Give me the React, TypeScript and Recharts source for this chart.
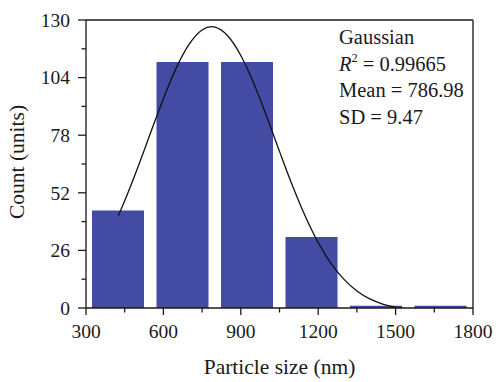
import React from "react";
import {
  ComposedChart,
  Bar,
  Line,
  XAxis,
  YAxis,
  ReferenceLine,
} from "recharts";

// histogram bins (bin centre in nm) and counts
const binCenters = [425, 675, 925, 1175, 1425, 1675];
const counts = [44, 111, 111, 32, 1, 1];

// Gaussian fit curve, sampled along particle size
const fitSizes = [
  425, 450, 500, 550, 600, 650, 700, 750, 787, 800, 850, 900, 950, 1000, 1050,
  1100, 1150, 1200, 1250, 1300, 1350, 1400, 1450, 1500, 1550, 1600, 1650, 1675,
];
const fitCounts = [
  41.6, 48.4, 63.2, 79.0, 94.5, 108.4, 119.1, 125.5, 127.0, 126.8, 122.8, 114.0,
  101.5, 86.6, 70.7, 55.3, 41.4, 29.5, 20.0, 12.9, 7.7, 4.1, 1.8, 0.4, -0.5,
  -1.0, -1.2, -1.3,
];

const xTicks = [300, 450, 600, 750, 900, 1050, 1200, 1350, 1500, 1650, 1800];
const yTicks = [0, 13, 26, 39, 52, 65, 78, 91, 104, 117, 130];

const bins = binCenters.map((size, i) => ({ size, count: counts[i] }));
const fit = fitSizes.map((size, i) => ({ size, fit: fitCounts[i] }));

const FONT = '"Liberation Serif", "Times New Roman", serif';
const INK = "#1a1a1a";

const XTick = (props: any) => {
  const { x, y, payload } = props;
  const major = payload.value % 300 === 0;
  return (
    <g>
      <line x1={x} x2={x} y1={y} y2={y + (major ? 7 : 4.5)} stroke={INK} strokeWidth={1.3} />
      {major && (
        <text x={x} y={y + 29.5} textAnchor="middle" fontFamily={FONT} fontSize={19.5} fill={INK}>
          {payload.value}
        </text>
      )}
    </g>
  );
};

const YTick = (props: any) => {
  const { x, y, payload } = props;
  const major = payload.value % 26 === 0;
  return (
    <g>
      <line x1={x - (major ? 8 : 4.5)} x2={x} y1={y} y2={y} stroke={INK} strokeWidth={1.3} />
      {major && (
        <text
          x={x - 16}
          y={y}
          dy="0.35em"
          textAnchor="end"
          fontFamily={FONT}
          fontSize={19.5}
          fill={INK}
        >
          {payload.value}
        </text>
      )}
    </g>
  );
};

const YTitle = (props: any) => {
  const { x, y, height } = props.viewBox;
  const cx = x + 7.5;
  const cy = y + height / 2 - 2;
  return (
    <text
      x={cx}
      y={cy}
      transform={`rotate(-90, ${cx}, ${cy})`}
      textAnchor="middle"
      fontFamily={FONT}
      fontSize={21.5}
      fill={INK}
    >
      Count (units)
    </text>
  );
};

export default function App() {
  return (
    <div style={{ position: "absolute", left: 0, top: 0, width: 498, height: 382, background: "#fff" }}>
      <ComposedChart
        width={498}
        height={382}
        data={bins}
        margin={{ top: 20, right: 25, left: 16, bottom: 34 }}
      >
        <XAxis
          dataKey="size"
          type="number"
          domain={[300, 1800]}
          ticks={xTicks}
          interval={0}
          height={40}
          tickSize={0}
          tickMargin={0}
          tick={<XTick />}
          axisLine={{ stroke: INK, strokeWidth: 1.3 }}
          label={{
            value: "Particle size (nm)",
            position: "bottom",
            offset: 11,
            fontFamily: FONT,
            fontSize: 21.5,
            fill: INK,
          }}
        />
        {/* separate hidden axis so bar width comes from bin spacing only */}
        <XAxis xAxisId="bins" dataKey="size" type="number" domain={[300, 1800]} hide />
        <YAxis
          type="number"
          domain={[0, 130]}
          allowDataOverflow
          ticks={yTicks}
          interval={0}
          width={70}
          tickSize={0}
          tickMargin={0}
          tick={<YTick />}
          axisLine={{ stroke: INK, strokeWidth: 1.3 }}
          label={{ content: <YTitle /> }}
        />
        <ReferenceLine y={130} stroke={INK} strokeWidth={1.3} />
        <ReferenceLine x={1800} stroke="#333" strokeWidth={1.5} />
        <Bar xAxisId="bins" dataKey="count" fill="#434ba3" barSize={52} isAnimationActive={false} />
        <Line
          data={fit}
          dataKey="fit"
          type="monotone"
          stroke="#111"
          strokeWidth={1.3}
          dot={false}
          activeDot={false}
          isAnimationActive={false}
        />
      </ComposedChart>
      <div
        style={{
          position: "absolute",
          left: 339,
          top: 24,
          fontFamily: FONT,
          fontSize: 20.5,
          lineHeight: "26.5px",
          color: INK,
          whiteSpace: "nowrap",
        }}
      >
        <div>Gaussian</div>
        <div>
          <i>R</i>
          <span style={{ fontSize: "0.6em", verticalAlign: "0.7em", lineHeight: 0 }}>2</span> = 0.99665
        </div>
        <div>Mean = 786.98</div>
        <div>SD = 9.47</div>
      </div>
    </div>
  );
}
